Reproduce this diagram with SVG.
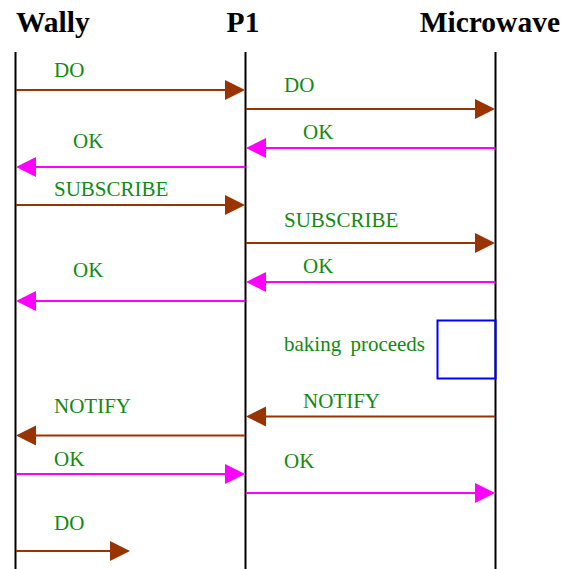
<svg xmlns="http://www.w3.org/2000/svg" width="569" height="569" viewBox="0 0 569 569">
<style>
.hdr{font-family:"Liberation Serif","Times New Roman",serif;font-weight:bold;font-size:29.5px;fill:#000}
.lbl{font-family:"Liberation Serif","Times New Roman",serif;font-size:21px;fill:#128a12}
.life{stroke:#000;stroke-width:2}
.br{stroke:#993300;stroke-width:2;fill:none}
.mg{stroke:#ff00ff;stroke-width:2;fill:none}
.hbr{fill:#993300}
.hmg{fill:#ff00ff}
</style>
<rect width="569" height="569" fill="#fff"/>
<g id="wally"><text class="hdr" x="16" y="32">Wally</text><line class="life" x1="15.5" y1="52" x2="15.5" y2="569"/></g>
<g id="p1"><text class="hdr" x="243" y="32" text-anchor="middle">P1</text><line class="life" x1="245.5" y1="52" x2="245.5" y2="569"/></g>
<g id="microwave"><text class="hdr" x="560" y="32" text-anchor="end">Microwave</text><line class="life" x1="495.5" y1="52" x2="495.5" y2="569"/></g>
<g id="baking"><rect x="437.5" y="320.5" width="58" height="58" fill="none" stroke="#0000ff" stroke-width="2"/><text class="lbl" x="284" y="351" word-spacing="4">baking proceeds</text></g>
<g id="connectors">
<line class="br" x1="16" y1="90" x2="226" y2="90"/><polygon class="hbr" points="245,90 225,80 225,100"/><text class="lbl" x="54" y="77">DO</text>
<line class="br" x1="246" y1="109" x2="476" y2="109"/><polygon class="hbr" points="495,109 475,99 475,119"/><text class="lbl" x="284" y="92">DO</text>
<line class="mg" x1="495" y1="148" x2="265" y2="148"/><polygon class="hmg" points="246,148 266,138 266,158"/><text class="lbl" x="303" y="139">OK</text>
<line class="mg" x1="245" y1="167" x2="35" y2="167"/><polygon class="hmg" points="16,167 36,157 36,177"/><text class="lbl" x="73" y="148">OK</text>
<line class="br" x1="16" y1="205" x2="226" y2="205"/><polygon class="hbr" points="245,205 225,195 225,215"/><text class="lbl" x="54" y="196">SUBSCRIBE</text>
<line class="br" x1="246" y1="243" x2="476" y2="243"/><polygon class="hbr" points="495,243 475,233 475,253"/><text class="lbl" x="284" y="227">SUBSCRIBE</text>
<line class="mg" x1="495" y1="282" x2="265" y2="282"/><polygon class="hmg" points="246,282 266,272 266,292"/><text class="lbl" x="303" y="273">OK</text>
<line class="mg" x1="245" y1="301" x2="35" y2="301"/><polygon class="hmg" points="16,301 36,291 36,311"/><text class="lbl" x="73" y="277">OK</text>
<line class="br" x1="495" y1="416.5" x2="265" y2="416.5"/><polygon class="hbr" points="246,416.5 266,406.5 266,426.5"/><text class="lbl" x="303" y="408">NOTIFY</text>
<line class="br" x1="245" y1="435.5" x2="35" y2="435.5"/><polygon class="hbr" points="16,435.5 36,425.5 36,445.5"/><text class="lbl" x="54" y="413">NOTIFY</text>
<line class="mg" x1="16" y1="474" x2="226" y2="474"/><polygon class="hmg" points="245,474 225,464 225,484"/><text class="lbl" x="54" y="466">OK</text>
<line class="mg" x1="246" y1="493" x2="476" y2="493"/><polygon class="hmg" points="495,493 475,483 475,503"/><text class="lbl" x="284" y="468">OK</text>
<line class="br" x1="16" y1="551" x2="111" y2="551"/><polygon class="hbr" points="130,551 110,541 110,561"/><text class="lbl" x="54" y="530">DO</text>
</g>
</svg>
